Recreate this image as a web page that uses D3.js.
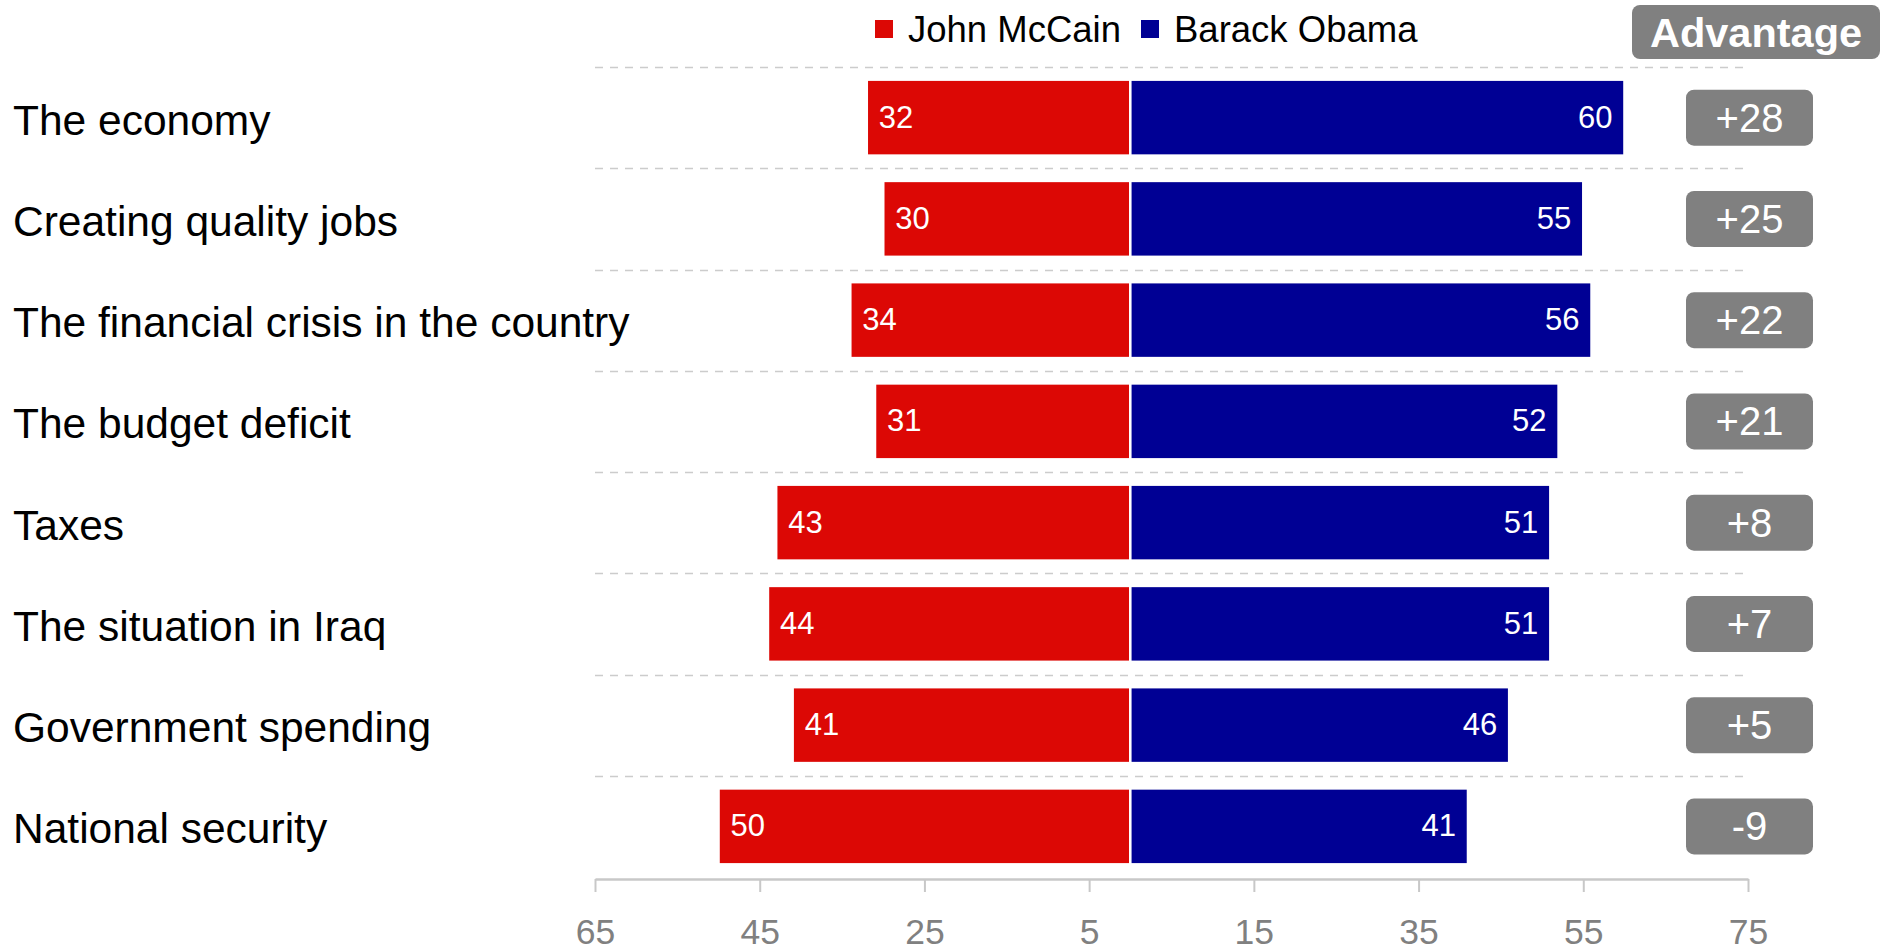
<!DOCTYPE html>
<html>
<head>
<meta charset="utf-8">
<script src="https://cdn.jsdelivr.net/npm/d3@7"></script>
<style>
  body { margin: 0; background: #fff; }
  text { font-family: "Liberation Sans", Arial, sans-serif; }
</style>
</head>
<body>
<svg id="chart" width="1888" height="951"></svg>
<script>
// issues, top to bottom
const issues = [
  "The economy",
  "Creating quality jobs",
  "The financial crisis in the country",
  "The budget deficit",
  "Taxes",
  "The situation in Iraq",
  "Government spending",
  "National security"
];
const mccain = [32, 30, 34, 31, 43, 44, 41, 50];
const obama = [60, 55, 56, 52, 51, 51, 46, 41];
const advantage = [28, 25, 22, 21, 8, 7, 5, -9];
const tickValues = [-65, -45, -25, -5, 15, 35, 55, 75];
const seriesNames = ["John McCain", "Barack Obama"];

const red = "#dc0805";
const blue = "#000094";
const grey = "#808080";

const rows = issues.map((d, i) => ({
  issue: d, mccain: mccain[i], obama: obama[i], adv: advantage[i]
}));

const svg = d3.select("#chart");

const x = d3.scaleLinear().domain([-65, 75]).range([595, 1748]);
const y = d3.scaleBand()
  .domain(issues)
  .range([67, 877])
  .paddingInner(0.25)
  .paddingOuter(0.125);

// dashed separators
svg.append("g")
  .selectAll("line")
  .data(issues)
  .join("line")
  .attr("x1", x(-65))
  .attr("x2", x(75))
  .attr("y1", (d) => Math.round(y(d) - y.step() * 0.125) + 0.5)
  .attr("y2", (d) => Math.round(y(d) - y.step() * 0.125) + 0.5)
  .attr("stroke", "#cccccc")
  .attr("stroke-width", 1.5)
  .attr("stroke-dasharray", "8,7");

// bars
const bars = svg.append("g");
bars.selectAll("rect.mc")
  .data(rows)
  .join("rect")
  .attr("class", "mc")
  .attr("x", (d) => x(-d.mccain))
  .attr("y", (d) => y(d.issue))
  .attr("width", (d) => x(0) - x(-d.mccain))
  .attr("height", y.bandwidth())
  .attr("fill", red)
  .attr("stroke", "#fff")
  .attr("stroke-width", 2.5);

bars.selectAll("rect.ob")
  .data(rows)
  .join("rect")
  .attr("class", "ob")
  .attr("x", x(0))
  .attr("y", (d) => y(d.issue))
  .attr("width", (d) => x(d.obama) - x(0))
  .attr("height", y.bandwidth())
  .attr("fill", blue)
  .attr("stroke", "#fff")
  .attr("stroke-width", 2.5);

// value labels inside bars
bars.selectAll("text.mc")
  .data(rows)
  .join("text")
  .attr("class", "mc")
  .attr("x", (d) => x(-d.mccain) + 12)
  .attr("y", (d) => y(d.issue) + y.bandwidth() / 2 + 10)
  .attr("fill", "#fff")
  .attr("font-size", 31)
  .text((d) => d.mccain);

bars.selectAll("text.ob")
  .data(rows)
  .join("text")
  .attr("class", "ob")
  .attr("x", (d) => x(d.obama) - 12)
  .attr("y", (d) => y(d.issue) + y.bandwidth() / 2 + 10)
  .attr("text-anchor", "end")
  .attr("fill", "#fff")
  .attr("font-size", 31)
  .text((d) => d.obama);

// category labels
svg.append("g")
  .selectAll("text")
  .data(issues)
  .join("text")
  .attr("x", 13)
  .attr("y", (d) => y(d) + y.bandwidth() / 2 + 17)
  .attr("font-size", 42.5)
  .attr("fill", "#000")
  .text((d) => d);

// x axis
const axis = svg.append("g")
  .attr("transform", "translate(0,879)")
  .call(
    d3.axisBottom(x)
      .tickValues(tickValues)
      .tickFormat((d) => Math.abs(d))
      .tickSize(13)
      .tickSizeOuter(0)
  );
axis.select(".domain").attr("stroke", "#c8c8c8").attr("stroke-width", 2.5);
axis.selectAll(".tick line").attr("stroke", "#c8c8c8").attr("stroke-width", 2);
axis.selectAll(".tick text")
  .attr("y", 65)
  .attr("dy", 0)
  .attr("fill", grey)
  .attr("font-size", 35.5)
  .attr("font-family", "Liberation Sans, Arial, sans-serif");

// advantage header
svg.append("rect")
  .attr("x", 1632).attr("y", 5)
  .attr("width", 248).attr("height", 54)
  .attr("rx", 8)
  .attr("fill", grey);
svg.append("text")
  .attr("x", 1756).attr("y", 47)
  .attr("text-anchor", "middle")
  .attr("font-size", 41.5)
  .attr("font-weight", "bold")
  .attr("fill", "#fff")
  .text("Advantage");

// advantage boxes
const adv = svg.append("g");
adv.selectAll("rect")
  .data(rows)
  .join("rect")
  .attr("x", 1686)
  .attr("y", (d) => y(d.issue) + y.bandwidth() / 2 - 28)
  .attr("width", 127)
  .attr("height", 56)
  .attr("rx", 8)
  .attr("fill", grey);
adv.selectAll("text")
  .data(rows)
  .join("text")
  .attr("x", 1749.5)
  .attr("y", (d) => y(d.issue) + y.bandwidth() / 2 + 14)
  .attr("text-anchor", "middle")
  .attr("font-size", 40)
  .attr("fill", "#fff")
  .text((d) => (d.adv > 0 ? "+" : "") + d.adv);

// legend
const legendX = [875, 1141];
const legendColors = [red, blue];
const legend = svg.append("g")
  .selectAll("g")
  .data(seriesNames)
  .join("g")
  .attr("transform", (d, i) => `translate(${legendX[i]},20)`);
legend.append("rect")
  .attr("width", 18).attr("height", 18)
  .attr("fill", (d, i) => legendColors[i]);
legend.append("text")
  .attr("x", 33).attr("y", 22)
  .attr("font-size", 36.5)
  .attr("fill", "#000")
  .text((d) => d);
</script>
</body>
</html>
